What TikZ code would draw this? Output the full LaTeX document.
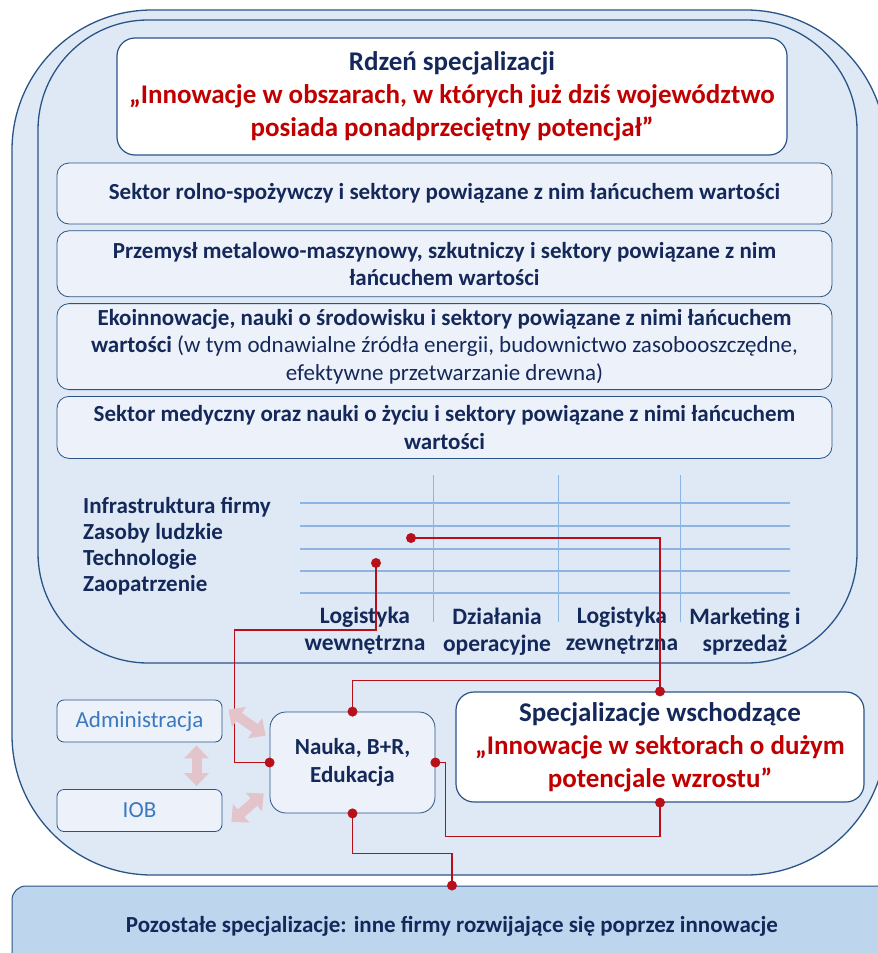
\documentclass[tikz,border=0pt]{standalone}
\usepackage{fontspec}
\setmainfont{Carlito}
\usetikzlibrary{positioning,arrows.meta}
\definecolor{navy}{HTML}{14285A}
\definecolor{rim}{HTML}{2B5486}
\definecolor{paleblue}{HTML}{DEE9F5}
\definecolor{boxblue}{HTML}{EDF2FA}
\definecolor{barblue}{HTML}{BDD6EE}
\definecolor{gridblue}{HTML}{8DB4E2}
\definecolor{deepred}{HTML}{C00000}
\definecolor{linkred}{HTML}{B8101A}
\definecolor{linkpink}{HTML}{E3C4CA}
\definecolor{admblue}{HTML}{3A78C0}
\tikzset{
x=1pt, y=-1pt,
node distance=6pt, % gap between the sector boxes
shell/.style={draw=rim, line width=1.3pt, fill=paleblue},
corebox/.style={draw=rim, line width=1.2pt, fill=white, rounded corners=18pt, minimum width=670pt, minimum height=117pt, align=center},
sector/.style={draw=rim, line width=0.8pt, fill=boxblue, rounded corners=12pt, minimum width=775pt, align=center, text=navy, font=\bfseries\fontsize{23}{27.5}\selectfont},
sidebox/.style={draw=rim, line width=0.8pt, fill=boxblue, rounded corners=7pt, minimum width=165pt, minimum height=42pt, text=admblue, font=\fontsize{23}{27}\selectfont},
rowlbl/.style={anchor=west, text=navy, font=\bfseries\fontsize{23}{27}\selectfont, inner sep=0pt},
collbl/.style={align=center, text=navy, font=\bfseries\fontsize{23.5}{27}\selectfont, inner sep=0pt},
link/.style={draw=linkred, line width=1.1pt},
pinkarrow/.style={draw=linkpink, line width=10pt, {Triangle[width=24pt,length=13pt]}-{Triangle[width=24pt,length=13pt]}},
}
\begin{document}
\begin{tikzpicture}
\useasboundingbox (0,0) rectangle (878,953);
\clip (0,0) rectangle (878,953);
% background shells
\draw[shell, rounded corners=140pt] (12,10) rectangle (886,875);
\draw[shell, rounded corners=110pt] (38,20) rectangle (857,663);

% core of the specialisation
\node[corebox, font=\bfseries\fontsize{27}{33}\selectfont] (core) at (452,96.5)
  {\textcolor{navy}{Rdzeń specjalizacji}\\
   \textcolor{deepred}{„Innowacje w obszarach, w których już dziś województwo}\\
   \textcolor{deepred}{posiada ponadprzeciętny potencjał”}};

\node[sector, minimum height=61pt] (agri) at (444.5,193.5)
  {Sektor rolno-spożywczy i sektory powiązane z nim łańcuchem wartości};
\node[sector, minimum height=66pt, below=of agri] (metal)
  {Przemysł metalowo-maszynowy, szkutniczy i sektory powiązane z nim\\ łańcuchem wartości};
\node[sector, minimum height=86pt, below=of metal] (eco)
  {Ekoinnowacje, nauki o środowisku i sektory powiązane z nimi łańcuchem\\
   wartości \mdseries(w tym odnawialne źródła energii, budownictwo zasobooszczędne,\\
   \mdseries efektywne przetwarzanie drewna)};
\node[sector, minimum height=62pt, below=of eco] (med)
  {Sektor medyczny oraz nauki o życiu i sektory powiązane z nimi łańcuchem\\ wartości};

% value chain grid
\foreach \y in {503,526,549,571,593}
  \draw[gridblue, line width=1.5pt] (300,\y) -- (790,\y);
\foreach \x in {433,558,680}
  \draw[gridblue, line width=0.7pt] (\x,475) -- (\x,622);
\node[rowlbl] (infra) at (83,507) {Infrastruktura firmy};
\node[rowlbl] (hr) at (83,533) {Zasoby ludzkie};
\node[rowlbl] (tech) at (83,559) {Technologie};
\node[rowlbl] (supply) at (83,585) {Zaopatrzenie};
\node[collbl] (inlog) at (365,631) {Logistyka\\wewnętrzna};
\node[collbl] (ops) at (497,632) {Działania\\operacyjne};
\node[collbl] (outlog) at (622,631) {Logistyka\\zewnętrzna};
\node[collbl] (sales) at (745,632) {Marketing i\\sprzedaż};

% lower part
\node[sidebox] (adm) at (139.5,721) {Administracja};
\node[sidebox] (iob) at (139.5,810.5) {IOB};
\node[draw=rim, line width=0.8pt, fill=boxblue, rounded corners=16pt, minimum width=165pt, minimum height=101pt,
  align=center, text=navy, font=\bfseries\fontsize{23}{28}\selectfont] (nauka) at (352.5,762.5) {Nauka, B+R,\\Edukacja};
\node[draw=rim, line width=1.2pt, fill=white, rounded corners=18pt, minimum width=408pt, minimum height=110pt,
  align=center, font=\bfseries\fontsize{27}{33}\selectfont] (spec) at (660,747)
  {\textcolor{navy}{Specjalizacje wschodzące}\\
   \textcolor{deepred}{„Innowacje w sektorach o dużym}\\
   \textcolor{deepred}{potencjale wzrostu”}};
\node[draw=rim, line width=1pt, fill=barblue, rounded corners=14pt, minimum width=880pt, minimum height=80pt,
  text=navy, font=\bfseries\fontsize{23}{27}\selectfont] (rest) at (452,926)
  {Pozostałe specjalizacje: inne firmy rozwijające się poprzez innowacje};

% links
\coordinate (hrdot) at (411,538);
\coordinate (techdot) at (376,563);
\coordinate (jn) at ([yshift=11pt]spec.north);
\draw[link] (hrdot) -| (spec.north);
\draw[link] (nauka.north) |- (jn);
\draw[link] (techdot) -- ++(0,67) -| ([xshift=-35pt]nauka.west) -- (nauka.west);
\draw[link] (nauka.east) -- ++(10,0) |- ([yshift=-34pt]spec.south) -- (spec.south);
\draw[link] (nauka.south) -- ++(0,40) -| (rest.north);
\foreach \p in {hrdot,techdot,nauka.north,nauka.west,nauka.east,nauka.south,spec.north,spec.south,rest.north}
  \fill[linkred] (\p) circle (5pt);

\draw[pinkarrow] ([xshift=57pt,yshift=-3pt]adm.south) -- ([xshift=57pt,yshift=3pt]iob.north);
\draw[pinkarrow] ([shift={(6,10)}]adm.north east) -- ([shift={(-4,24)}]nauka.north west);
\draw[pinkarrow] ([shift={(9,-10)}]iob.south east) -- ([shift={(-6,-20)}]nauka.south west);
\end{tikzpicture}
\end{document}
